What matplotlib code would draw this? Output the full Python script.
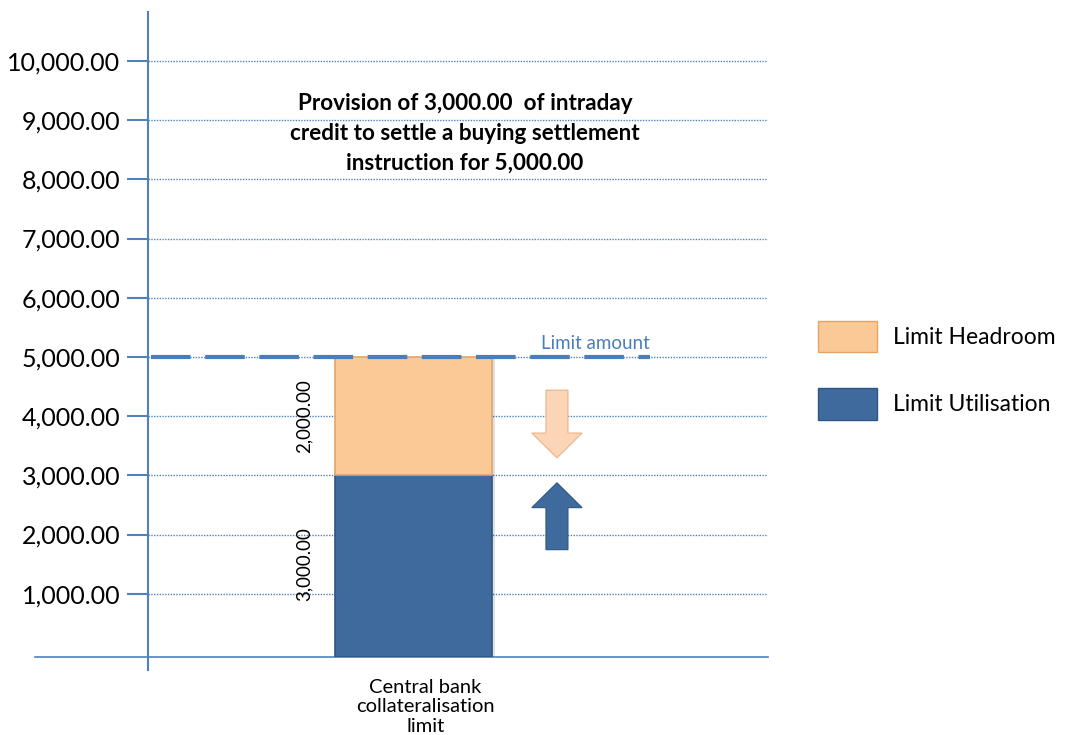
import matplotlib
matplotlib.use("Agg")
import matplotlib.pyplot as plt
from matplotlib.patches import Patch, FancyArrow

plt.rcParams["font.family"] = ["Lato", "DejaVu Sans"]

# data
category = ["Central bank\ncollateralisation\nlimit"]
utilisation = [3000.0]
headroom = [2000.0]
limit_amount = 5000.0
yticks = [1000, 2000, 3000, 4000, 5000, 6000, 7000, 8000, 9000, 10000]
note = "Provision of 3,000.00  of intraday\ncredit to settle a buying settlement\ninstruction for 5,000.00"

BLUE = "#3E6A9E"
PEACH = "#FAC995"
LINE = "#4F81BD"

fig = plt.figure(figsize=(10.66, 7.35), dpi=100)
ax = fig.add_axes([35 / 1066, 78 / 735, 733 / 1066, 645 / 735])

bar_w = 0.5
xs = [0]
ax.set_xlim(-1.204, 1.130)
ax.set_ylim(-68, 10827)
yaxis_x = -0.844

# gridlines
ax.hlines(yticks, yaxis_x, 1.130, colors=LINE, linestyles=(0, (1, 1)), lw=1.0, zorder=1)

# bars with a soft shadow
for x, u, h in zip(xs, utilisation, headroom):
    ax.bar(x + 0.012, u + h + 60, bar_w, bottom=-68, color="#000000", alpha=0.12, zorder=2)
ax.bar(xs, [u + 68 for u in utilisation], bar_w, bottom=-68, color=BLUE,
       edgecolor="#2F5580", lw=1.2, zorder=3)
ax.bar(xs, headroom, bar_w, bottom=utilisation, color=PEACH, edgecolor="#E3A56A",
       lw=1.2, zorder=3)

# value labels beside the bars
for x, u, h in zip(xs, utilisation, headroom):
    ax.annotate(f"{h:,.2f}", xy=(x - bar_w / 2, u + h / 2), xytext=(-22, 0),
                textcoords="offset points", rotation=90, ha="center", va="center",
                fontsize=13.5)
    ax.annotate(f"{u:,.2f}", xy=(x - bar_w / 2, u / 2), xytext=(-22, 0),
                textcoords="offset points", rotation=90, ha="center", va="center",
                fontsize=13.5)

# limit line
ax.plot([yaxis_x + 0.01, 0.755], [limit_amount, limit_amount], color="#4A7EBB", lw=3.0,
        dashes=(9.5, 3.5), zorder=4)
ax.text(0.755, limit_amount + 90, "Limit amount", color="#4A7EBB", fontsize=13.5,
        ha="right", va="bottom")

# arrows
ax.add_patch(FancyArrow(0.458, 4440, 0, -1145, width=0.07, head_width=0.16,
                        head_length=420, length_includes_head=True,
                        facecolor="#FBD5B5", edgecolor="#E8B48A", lw=0.8, zorder=3))
ax.add_patch(FancyArrow(0.458, 1745, 0, 1130, width=0.07, head_width=0.16,
                        head_length=420, length_includes_head=True,
                        facecolor=BLUE, edgecolor="#2F5580", lw=0.8, zorder=3))

# annotation
ax.text(0.165, 8770, note, ha="center", va="center", fontsize=16.2, fontweight="bold",
        linespacing=1.52)

# axes styling
for s in ["top", "right"]:
    ax.spines[s].set_visible(False)
ax.spines["left"].set_position(("data", yaxis_x))
ax.spines["left"].set_bounds(-290, 10827)
ax.spines["left"].set_color(LINE)
ax.spines["left"].set_linewidth(1.5)
ax.spines["bottom"].set_color(LINE)
ax.spines["bottom"].set_linewidth(1.2)

ax.set_yticks(yticks)
ax.set_yticklabels([f"{v:,.2f}" for v in yticks])
ax.tick_params(axis="y", direction="out", length=15, width=1.5, color=LINE,
               labelsize=18, pad=5)
ax.set_xticks([0.04])
ax.set_xticklabels(category)
ax.tick_params(axis="x", length=0, labelsize=14.5, pad=15.5)
for lab in ax.get_xticklabels():
    lab.set_linespacing(1.2)

# legend
handles = [Patch(facecolor=PEACH, edgecolor="#E3A56A", label="Limit Headroom"),
           Patch(facecolor=BLUE, edgecolor="#2F5580", label="Limit Utilisation")]
fig.legend(handles=handles, loc="upper left", bbox_to_anchor=(797 / 1066, 1 - 300 / 735),
           frameon=False, fontsize=16.5, handlelength=2.6, handleheight=1.75,
           labelspacing=1.55, handletextpad=0.7)

fig.savefig("out.png", dpi=100)
